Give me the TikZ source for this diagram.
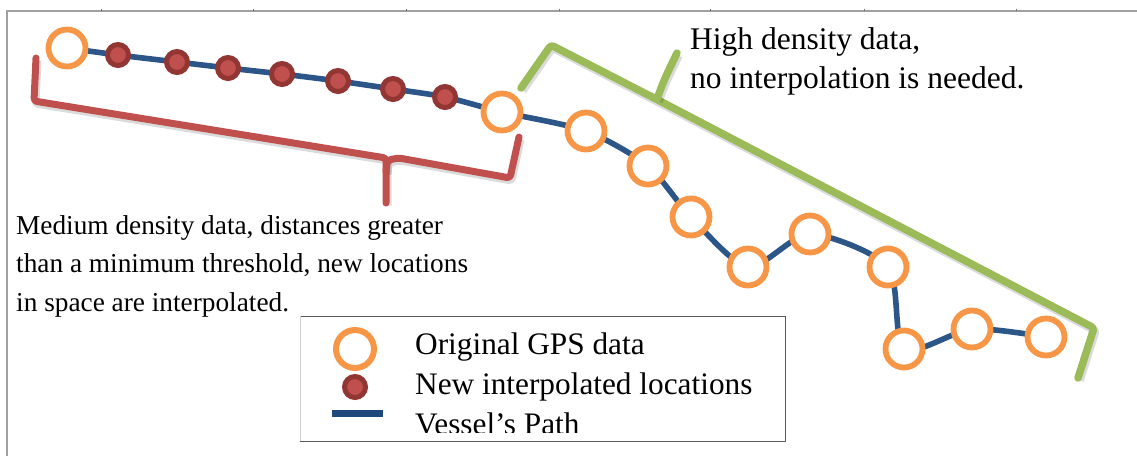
\documentclass[tikz,border=0pt]{standalone}
\usepackage{fontspec}
\setmainfont{Liberation Serif}
\pgfdeclarelayer{background}
\pgfsetlayers{background,main}

\definecolor{gpsorange}{HTML}{F79646}
\definecolor{interpred}{HTML}{C0504D}
\definecolor{interpdark}{HTML}{923634}
\definecolor{pathblue}{RGB}{44,86,136}
\definecolor{legendblue}{HTML}{1F497D}
\definecolor{bracered}{HTML}{C0504D}
\definecolor{bracegreen}{HTML}{9BBB59}
\definecolor{framecol}{RGB}{160,160,160}
\definecolor{boxcol}{RGB}{90,90,90}

\begin{document}
\begin{tikzpicture}[x=1pt,y=-1pt,
  gps/.style={circle, draw=gpsorange, line width=5.8pt, fill=white,
              minimum size=37pt, inner sep=0pt},
  interp/.style={circle, draw=interpdark, line width=5pt, fill=interpred,
                 minimum size=21pt, inner sep=0pt},
  vpath/.style={draw=pathblue, line width=5.6pt, line cap=round, line join=round},
  shadowed/.style={preaction={draw=black, draw opacity=0.14, line width=#1,
                   transform canvas={xshift=1.5pt,yshift=-2.5pt}}},
  bracer/.style={draw=bracered, line width=7pt, line cap=round, line join=round,
                 rounded corners=3pt, shadowed=8pt},
  braceg/.style={draw=bracegreen, line width=7.5pt, line cap=round, line join=round,
                 rounded corners=3pt, shadowed=8.5pt},
  medtext/.style={inner sep=0pt, anchor=base west,
                  font=\fontsize{27.3pt}{38pt}\selectfont},
  hightext/.style={inner sep=0pt, anchor=base west,
                   font=\fontsize{31.5pt}{38pt}\selectfont},
  legtext/.style={inner sep=0pt, anchor=base west,
                  font=\fontsize{31.3pt}{40pt}\selectfont},
]
\useasboundingbox (0,0) rectangle (1137,456);

% page frame with column ticks
\draw[framecol, line width=1.2pt] (7,456) -- (7,11) -- (1137,11);
\foreach \x in {101,253,406,559,710,864,1016}
  \draw[framecol!70!black, line width=0.8pt] (\x,8.5) -- (\x,11);

% braces
\draw[bracer] (36,58) -- (34,101) -- (386,158) -- (386,203);
\draw[bracer] (386,172) .. controls (387,160) .. (399,158) -- (510,178) -- (519,137);
\draw[braceg] (521,88) -- (551,45) -- (656,99) -- (1094,328) -- (1078,378);
\draw[braceg] (657,99) .. controls (664,80) .. (677,53);

% original GPS fixes
\node[gps] (c1)  at (67,48)   {};
\node[gps] (c2)  at (502,112) {};
\node[gps] (c3)  at (586,131) {};
\node[gps] (c4)  at (648,166) {};
\node[gps] (c5)  at (691,217) {};
\node[gps] (c6)  at (748,267) {};
\node[gps] (c7)  at (810,234) {};
\node[gps] (c8)  at (888,267) {};
\node[gps] (c9)  at (904,349) {};
\node[gps] (c10) at (972,329) {};
\node[gps] (c11) at (1046,337) {};

% interpolated positions
\node[interp] (d1) at (118,55) {};
\node[interp] (d2) at (177,62) {};
\node[interp] (d3) at (228,68) {};
\node[interp] (d4) at (282,74) {};
\node[interp] (d5) at (338,81) {};
\node[interp] (d6) at (393,89) {};
\node[interp] (d7) at (445,97) {};

% vessel track under the markers
\begin{pgfonlayer}{background}
\draw[vpath] plot[smooth, tension=0.45] coordinates {
  (c1.center) (d1.center) (d2.center) (d3.center) (d4.center) (d5.center)
  (d6.center) (d7.center) (c2.center) (c3.center) (c4.center) (c5.center)
  (c6.center) (c7.center) (c8.center) (c9.center) (c10.center) (c11.center)};
\end{pgfonlayer}

% annotations
\node[medtext] (m1) at (16,234)   {Medium density data, distances greater};
\node[medtext] (m2) at (16,272.5) {than a minimum threshold, new locations};
\node[medtext] (m3) at (16,311)   {in space are interpolated.};
\node[hightext] (h1) at (690,49.5) {High density data,};
\node[hightext] (h2) at (690,88)   {no interpolation is needed.};

% legend
\draw[boxcol, line width=0.9pt] (300,316) -- (785,316) -- (785,441) -- (300,441);
\draw[framecol!50, line width=0.9pt] (300,316) -- (300,441);
\node[gps, line width=6pt, minimum size=38pt] (lgps) at (355,349) {};
\node[interp] (lint) at (355,387) {};
\draw[legendblue, line width=7pt] (332,413.5) -- (383,413.5);
\begin{scope}
  \clip (300,316) rectangle (785,432);
  \node[legtext] (l1) at (415,354) {Original GPS data};
  \node[legtext] (l2) at (415,394) {New interpolated locations};
  \node[legtext] (l3) at (415,434) {Vessel’s Path};
\end{scope}
\end{tikzpicture}
\end{document}
